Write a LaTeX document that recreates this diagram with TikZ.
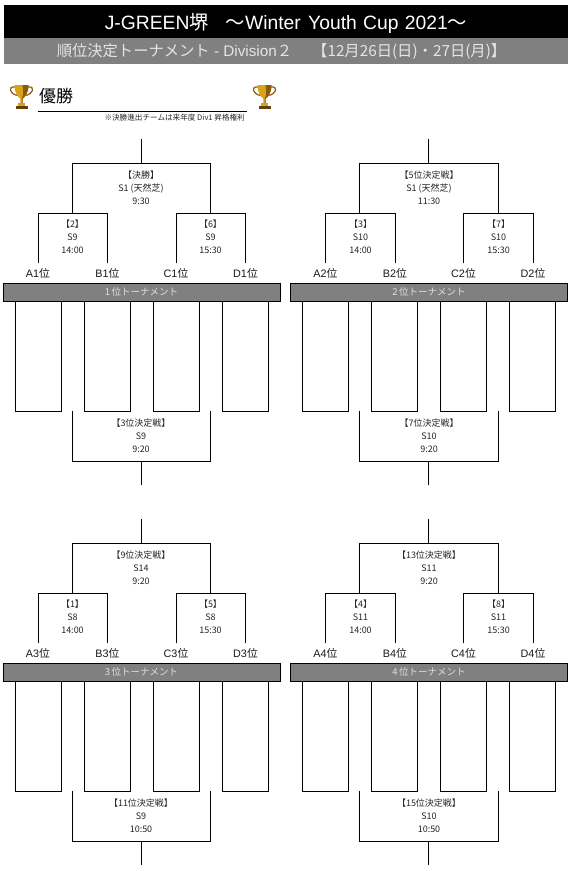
\documentclass[tikz,border=0pt]{standalone}
\usepackage{fontspec}
\setmainfont{Liberation Sans}
\newfontfamily\jp{Noto Sans CJK JP}
\definecolor{barfill}{HTML}{808080}
\definecolor{goldA}{HTML}{D9A21B}
\definecolor{goldB}{HTML}{8A5A0C}
\tikzset{
  wire/.style={draw=black,line width=0.9pt,line cap=rect},
  match/.style={font=\fontsize{9}{9}\selectfont\jp,text=black!85,inner sep=0pt,anchor=center},
  seed/.style={font=\fontsize{10.8}{10.8}\selectfont,text=black!90,inner sep=0pt,anchor=center},
  roundbar/.style={draw=black,line width=0.9pt,fill=barfill,minimum width=277pt,minimum height=18pt,inner sep=0pt,
    text=white!88!black,font=\fontsize{9.5}{9.5}\selectfont\jp,anchor=center},
  headtext/.style={text=white,inner sep=0pt,anchor=center}
}
% three-line match label
\newcommand{\matchlabel}[5]{%
  \node[match] (#1a) at (#2,#3) {#4};
  \node[match] (#1b) at (#2,#3+13.3) {#5};
}
\newcommand{\matchthird}[4]{\node[match] (#1c) at (#2,#3+26.6) {#4};}
% bracket skeleton of one quadrant
\newcommand{\quadrant}[4]{%
\begin{scope}[shift={(#2,#3)}]
  \coordinate (#1top) at (141,139);
  \coordinate (#1tj) at (141,163);
  \coordinate (#1tl) at (72,163);
  \coordinate (#1tr) at (210.5,163);
  \coordinate (#1ml) at (72,213);
  \coordinate (#1mr) at (210.5,213);
  \coordinate (#1al) at (38,213);
  \coordinate (#1bl) at (107.5,213);
  \coordinate (#1cl) at (176,213);
  \coordinate (#1dl) at (245.5,213);
  \coordinate (#1ae) at (38,263);
  \coordinate (#1be) at (107.5,263);
  \coordinate (#1ce) at (176,263);
  \coordinate (#1de) at (245.5,263);
  \node[seed] (#1A) at (38,273) {A#4\jp 位};
  \node[seed] (#1B) at (107.5,273) {B#4\jp 位};
  \node[seed] (#1C) at (176,273) {C#4\jp 位};
  \node[seed] (#1D) at (245.5,273) {D#4\jp 位};
  \node[roundbar] (#1bar) at (141.5,292) {#4\,位トーナメント};
  \draw[wire] (#1top) -- (#1tj);
  \draw[wire] (#1ml) -- (#1tl) -- (#1tr) -- (#1mr);
  \draw[wire] (#1ae) -- (#1al) -- (#1bl) -- (#1be);
  \draw[wire] (#1ce) -- (#1cl) -- (#1dl) -- (#1de);
  \foreach \l/\r in {15/61,84/130,153/199,222/268}{
    \draw[wire] (\l,301) -- (\l,411) -- (\r,411) -- (\r,301);
  }
  \coordinate (#1ll) at (72,411);
  \coordinate (#1lr) at (210.5,411);
  \coordinate (#1bj) at (141,461);
  \coordinate (#1bs) at (141,485);
  \draw[wire] (#1ll) -- (72,461) -- (210.5,461) -- (#1lr);
  \draw[wire] (#1bj) -- (#1bs);
\end{scope}}
% trophy
\newcommand{\trophy}[2]{%
\begin{scope}[shift={(#1,#2)}]
  \draw[goldB,line width=1.2pt,fill=none] (-6.5,-9.5) .. controls (-14,-10.5) and (-12,-2.5) .. (-4,-1);
  \draw[goldB,line width=1.2pt,fill=none] (6.5,-9.5) .. controls (14,-10.5) and (12,-2.5) .. (4,-1);
  \fill[goldA] (-7,-11.5) -- (7,-11.5) .. controls (7,-3) and (3,1) .. (1.2,2) -- (1.2,6.5) -- (-1.2,6.5) -- (-1.2,2) .. controls (-3,1) and (-7,-3) .. (-7,-11.5) -- cycle;
  \fill[goldB] (1,-11.5) -- (7,-11.5) .. controls (7,-3) and (3,1) .. (1.2,2) -- (1.2,6.5) -- (0.3,6.5) -- (0.3,2) .. controls (2,0) and (2,-6) .. (1,-11.5) -- cycle;
  \fill[goldA] (-3.5,6.5) rectangle (3.5,9);
  \fill[goldB!70!black] (-6,9) rectangle (6,12.5);
\end{scope}}
\begin{document}
\begin{tikzpicture}[x=1pt,y=-1pt]
\useasboundingbox (0,0) rectangle (575,871);
\fill[white] (0,0) rectangle (575,871);
% header
\node[fill=black,minimum width=564pt,minimum height=33pt,inner sep=0pt,anchor=center] (hd) at (286,21.5) {};
\node[fill=barfill,minimum width=564pt,minimum height=26pt,inner sep=0pt,anchor=center] (sub) at (286,51) {};
\node[headtext,font=\fontsize{19.3}{19.3}\selectfont] (title) at (286,23) {J-GREEN{\jp 堺}\hspace{17pt}{\jp ～}Winter\hspace{2pt} Youth\hspace{1pt} Cup\hspace{1pt} 2021{\jp ～}};
\node[headtext,font=\fontsize{15.3}{15.3}\selectfont,text=white!90!black] (subtitle) at (281.5,52) {{\jp 順位決定トーナメント} - Division{\jp ２}\hspace{20pt}{\jp 【12月26日(日)・27日(月)】}};
% winner
\trophy{21.5}{96.5}
\trophy{264.5}{96.5}
\node[inner sep=0pt,anchor=west,font=\fontsize{17}{17}\selectfont\jp] (win) at (39,96) {優勝};
\coordinate (ulA) at (38,111);
\coordinate (ulB) at (247,111);
\draw[black,line width=0.9pt] (ulA) -- (ulB);
\node[inner sep=0pt,anchor=east,font=\fontsize{7.6}{7.6}\selectfont\jp,text=black!85] (note) at (245,118) {※決勝進出チームは来年度 Div1 昇格権利};
% quadrants
\quadrant{q}{0}{0}{1}
\quadrant{r}{287.5}{0}{2}
\quadrant{s}{0}{380}{3}
\quadrant{t}{287.5}{380}{4}
% Q1
\matchlabel{qf}{141}{175}{【決勝】}{S1 (天然芝)}\matchthird{qf}{141}{175}{9:30}
\matchlabel{qx}{72.5}{224}{【2】}{S9}\matchthird{qx}{72.5}{224}{14:00}
\matchlabel{qy}{210.5}{224}{【6】}{S9}\matchthird{qy}{210.5}{224}{15:30}
\matchlabel{qz}{141}{423}{【3位決定戦】}{S9}\matchthird{qz}{141}{423}{9:20}
% Q2
\matchlabel{rf}{429}{175}{【5位決定戦】}{S1 (天然芝)}\matchthird{rf}{429}{175}{11:30}
\matchlabel{rx}{360.5}{224}{【3】}{S10}\matchthird{rx}{360.5}{224}{14:00}
\matchlabel{ry}{498.5}{224}{【7】}{S10}\matchthird{ry}{498.5}{224}{15:30}
\matchlabel{rz}{429}{423}{【7位決定戦】}{S10}\matchthird{rz}{429}{423}{9:20}
% Q3
\matchlabel{sf}{141}{555}{【9位決定戦】}{S14}\matchthird{sf}{141}{555}{9:20}
\matchlabel{sx}{72.5}{604}{【1】}{S8}\matchthird{sx}{72.5}{604}{14:00}
\matchlabel{sy}{210.5}{604}{【5】}{S8}\matchthird{sy}{210.5}{604}{15:30}
\matchlabel{sz}{141}{803}{【11位決定戦】}{S9}\matchthird{sz}{141}{803}{10:50}
% Q4
\matchlabel{tf}{429}{555}{【13位決定戦】}{S11}\matchthird{tf}{429}{555}{9:20}
\matchlabel{tx}{360.5}{604}{【4】}{S11}\matchthird{tx}{360.5}{604}{14:00}
\matchlabel{ty}{498.5}{604}{【8】}{S11}\matchthird{ty}{498.5}{604}{15:30}
\matchlabel{tz}{429}{803}{【15位決定戦】}{S10}\matchthird{tz}{429}{803}{10:50}
\end{tikzpicture}
\end{document}
